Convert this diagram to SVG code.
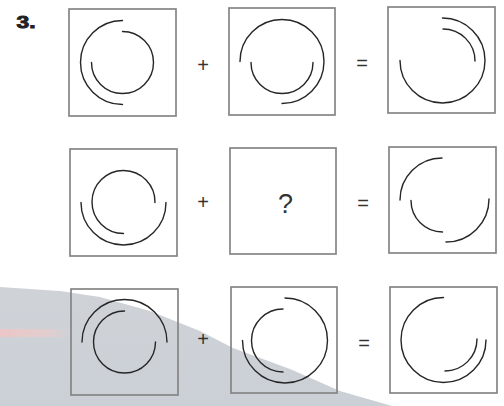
<svg xmlns="http://www.w3.org/2000/svg" width="504" height="406" viewBox="0 0 504 406">
<style>
.box{fill:none;stroke:#858585;stroke-width:1.7}
.arc{fill:none;stroke:#262626;stroke-width:1.4;stroke-linecap:round}
.op{font-family:"Liberation Sans",Arial,sans-serif;font-size:20px;fill:#333;text-anchor:middle}
.q{font-family:"Liberation Sans",Arial,sans-serif;font-size:27px;fill:#333;text-anchor:middle}
.num{font-family:"Liberation Sans",Arial,sans-serif;font-size:16.5px;font-weight:bold;fill:#222;stroke:#222;stroke-width:0.9}
</style>
<defs>
<linearGradient id="pink" x1="0" x2="1" y1="0" y2="0">
<stop offset="0" stop-color="#ecc6c6"/>
<stop offset="0.7" stop-color="#e8cccc" stop-opacity="0.8"/>
<stop offset="1" stop-color="#e8cccc" stop-opacity="0"/>
</linearGradient>
<linearGradient id="grey" x1="0" x2="0" y1="0" y2="1">
<stop offset="0" stop-color="#cfd3d8"/>
<stop offset="1" stop-color="#cbd0d6"/>
</linearGradient>
</defs>
<rect width="504" height="406" fill="#fff"/>
<g id="watermark">
<path d="M0,287 L60,291 L100,297 L150,311 L200,331 L233,348 L290,369 L340,391 L392,406 L0,406 Z" fill="url(#grey)"/>
<rect x="0" y="329" width="68" height="8" fill="url(#pink)"/>
</g>
<text class="num" x="16.5" y="27.5" textLength="19" lengthAdjust="spacingAndGlyphs">3.</text>
<g id="panel-1">
<rect class="box" x="69" y="9" width="107" height="107"/>
<path class="arc" d="M122.5,104.5 A42,42 0 0 1 122.5,20.5"/>
<path class="arc" d="M122.5,31.5 A31,31 0 1 1 91.5,62.5"/>
</g>
<g id="panel-2">
<rect class="box" x="229" y="8" width="106" height="107"/>
<path class="arc" d="M240,61.5 A42,42 0 1 1 282,103.5"/>
<path class="arc" d="M313,62.5 A31,31 0 0 1 251,62.5"/>
</g>
<g id="panel-3">
<rect class="box" x="388" y="7" width="107" height="106"/>
<path class="arc" d="M442.5,18 A42.5,42.5 0 1 1 400,60.5"/>
<path class="arc" d="M443,29 A32,32 0 0 1 475,61"/>
</g>
<g id="panel-4">
<rect class="box" x="70" y="149" width="107" height="107"/>
<path class="arc" d="M166,202.5 A42.5,42.5 0 0 1 81,202.5"/>
<path class="arc" d="M123.5,233.5 A31.5,31.5 0 1 1 155,202.5"/>
</g>
<g id="panel-5">
<rect class="box" x="230" y="148" width="106" height="106"/>
<text class="q" x="285.5" y="213">?</text>
</g>
<g id="panel-6">
<rect class="box" x="389" y="147" width="107" height="106"/>
<path class="arc" d="M400,200 A42,42 0 0 1 442,158"/>
<path class="arc" d="M489,199 A43,43 0 0 1 446,242"/>
<path class="arc" d="M411,200.5 A31.5,31.5 0 0 0 442.5,232"/>
</g>
<g id="panel-7">
<rect class="box" x="71" y="289" width="107" height="106"/>
<path class="arc" d="M82,342 A42.5,42.5 0 0 1 167,342"/>
<path class="arc" d="M155.5,342 A31,31 0 1 1 124.5,311"/>
</g>
<g id="panel-8">
<rect class="box" x="231" y="287" width="106" height="106"/>
<path class="arc" d="M285,298 A42.5,42.5 0 1 1 242.5,340.5"/>
<path class="arc" d="M283,372 A31.5,31.5 0 0 1 283,309"/>
</g>
<g id="panel-9">
<rect class="box" x="390" y="287" width="107" height="106"/>
<path class="arc" d="M486,340 A42.5,42.5 0 1 1 443.5,297.5"/>
<path class="arc" d="M477,339 A32,32 0 0 1 445,371"/>
</g>
<g id="connectors">
<text class="op" x="203" y="72">+</text>
<text class="op" x="362" y="70">=</text>
<text class="op" x="203" y="209">+</text>
<text class="op" x="363" y="210">=</text>
<text class="op" x="203" y="346">+</text>
<text class="op" x="364" y="350">=</text>
</g>
</svg>
